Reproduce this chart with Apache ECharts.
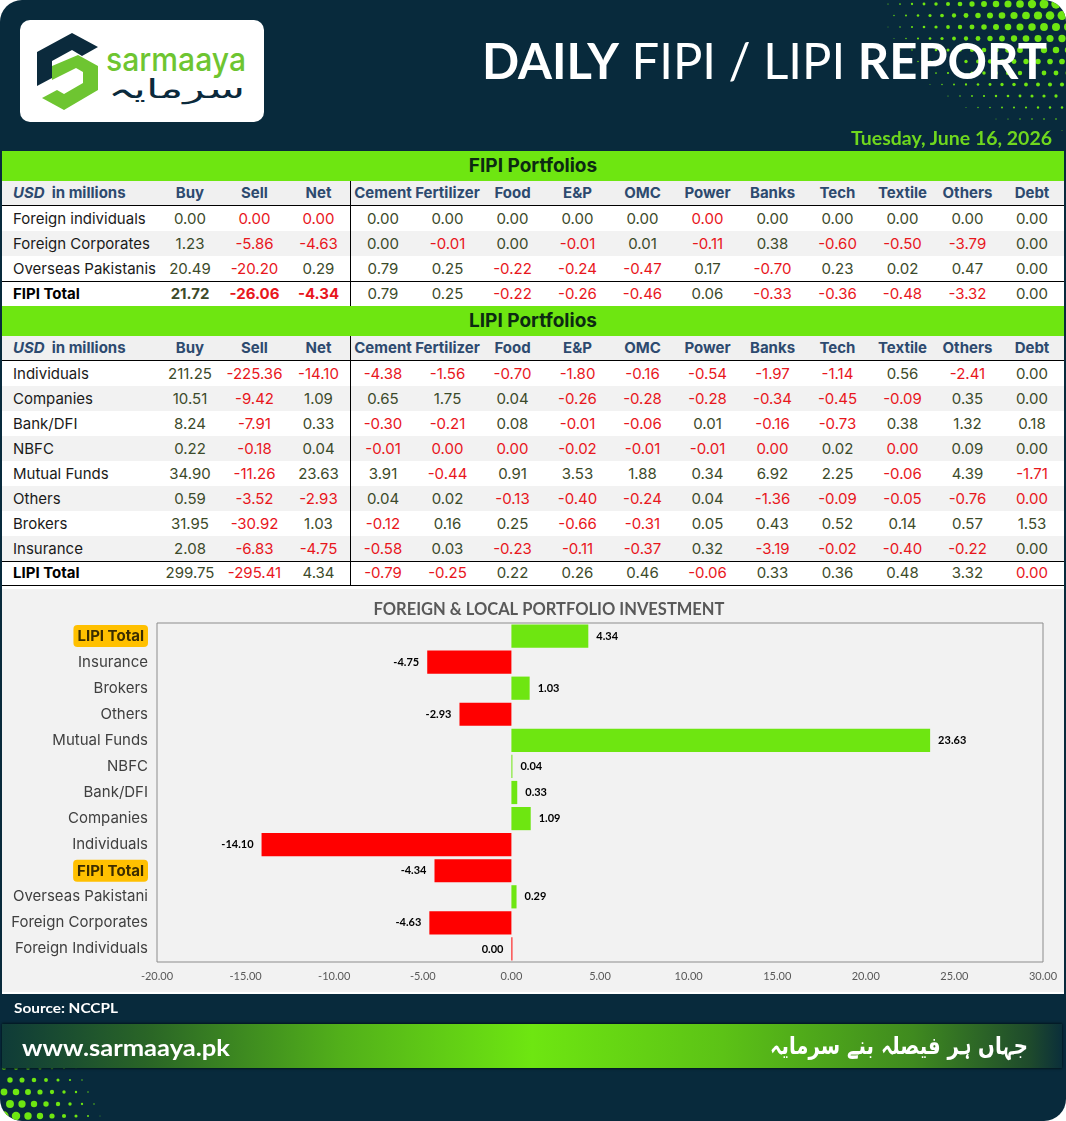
<!DOCTYPE html>
<html><head><meta charset="utf-8">
<script src="https://cdn.jsdelivr.net/npm/echarts@6/dist/echarts.min.js"></script>
<style>
html,body{margin:0;padding:0;background:#fff;}
#root{position:relative;width:1066px;height:1121px;overflow:hidden;background:#082a3c;border-radius:22px;font-family:Inter,'Noto Sans',sans-serif;}
#dots{position:absolute;left:0;top:0;}
.abs{position:absolute;white-space:nowrap;}
#mid{position:absolute;left:2px;top:151px;width:1062px;height:843px;background:#fff;}
.band{height:30px;line-height:30px;background:#6ee611;text-align:center;font-weight:700;font-size:19px;color:#0c2a12;}
.row{display:flex;height:25px;line-height:25px;font-size:15px;box-sizing:border-box;color:#1a1a1a;}
.row>div{flex:none;text-align:center;white-space:nowrap;box-sizing:border-box;}
.row>div.lab{text-align:left;padding-left:11px;}
.row>div.vl{border-left:1px solid #000;}
.hdr{background:#f0f0f0;font-weight:700;color:#2d4a6f;border-bottom:1.5px solid #000;line-height:24px;}
.alt{background:#f2f2f2;}
.tot{border-top:1.5px solid #000;line-height:24px;}
.totb{border-bottom:1.5px solid #000;line-height:22px;}
.pos{color:#3c4a2a;}
.neg{color:#e8161c;}
.b{font-weight:700;}
#chart{position:absolute;left:2px;top:589px;width:1062px;height:403px;}
#logo{position:absolute;left:20px;top:20px;width:244px;height:102px;background:#fff;border-radius:10px;}
#fband{position:absolute;left:2px;top:1024px;width:1060px;height:44px;
 background:linear-gradient(to right,#0f3b38 0%,#2a6626 14%,#52b01a 32%,#6ee611 50%,#5cc216 68%,#3f8a1f 86%,#1e4a2c 97%,#0b2f3a 100%);
 box-shadow:0 1px 2px #031820, 0 -1px 2px #031820;}
</style></head>
<body>
<div id="root">
  <canvas id="dots" width="1066" height="1121"></canvas>
  <div id="logo">
    <svg width="244" height="102" style="position:absolute;left:0;top:0">
      <polygon points="17,32 52,13 78,27 62,36 52,30 32,41 32,58 17,66" fill="#0b2a3c"/>
      <polygon points="32,46 58,35 78,46 78,70 44,90 22,78 37,70 44,74 63,63 63,52 56,48 32,60" fill="#6ec531"/>
    </svg>
    <div class="abs" id="logoTxt" style="left:86px;top:21px;font-family:Inter;font-weight:500;font-size:33px;line-height:36px;color:#6ec531;">sarmaaya</div>
    <div class="abs" id="logoUr" style="left:88px;top:54px;font-family:'DejaVu Sans';font-size:26px;line-height:30px;color:#0b2a3c;">سرمایہ</div>
  </div>
  <div class="abs" id="title" style="left:482px;top:33px;font-family:Lato;font-size:50px;line-height:54px;color:#fff;"><b>DAILY</b> FIPI / LIPI <b>REPORT</b></div>
  <div class="abs" id="date" style="left:851px;top:127px;font-family:Lato;font-weight:700;font-size:18px;line-height:22px;color:#6fd71e;">Tuesday, June 16, 2026</div>
  <div id="mid"><div id="tables"></div></div>
  <div id="chart"></div>
  <div class="abs" id="src" style="left:14px;top:999px;font-family:Lato;font-weight:700;font-size:13px;line-height:18px;color:#fff;">Source: NCCPL</div>
  <div id="fband"></div>
  <div class="abs" id="www" style="left:22px;top:1033px;font-family:Lato;font-weight:700;font-size:23px;line-height:28px;color:#fff;">www.sarmaaya.pk</div>
  <div class="abs" id="urdu" style="left:770px;top:1030px;font-family:'DejaVu Sans';font-weight:700;font-size:24px;line-height:32px;color:#fff;">جہاں ہر فیصلہ بنے سرمایہ</div>
</div>
<script>
// ---------- DATA ----------
const sectors = ['Cement','Fertilizer','Food','E&P','OMC','Power','Banks','Tech','Textile','Others','Debt'];
const fipiRows = ['Foreign individuals','Foreign Corporates','Overseas Pakistanis'];
const fipiBuy  = [0.00, 1.23, 20.49];
const fipiSell = [-0, -5.86, -20.20];
const fipiNet  = [-0, -4.63, 0.29];
const fipiSector = [
  [0.00, 0.00, 0.00, 0.00, 0.00, -0, 0.00, 0.00, 0.00, 0.00, 0.00],
  [0.00, -0.01, 0.00, -0.01, 0.01, -0.11, 0.38, -0.60, -0.50, -3.79, 0.00],
  [0.79, 0.25, -0.22, -0.24, -0.47, 0.17, -0.70, 0.23, 0.02, 0.47, 0.00]
];
const fipiTotalBuy = 21.72, fipiTotalSell = -26.06, fipiTotalNet = -4.34;
const fipiTotalSector = [0.79, 0.25, -0.22, -0.26, -0.46, 0.06, -0.33, -0.36, -0.48, -3.32, 0.00];

const lipiRows = ['Individuals','Companies','Bank/DFI','NBFC','Mutual Funds','Others','Brokers','Insurance'];
const lipiBuy  = [211.25, 10.51, 8.24, 0.22, 34.90, 0.59, 31.95, 2.08];
const lipiSell = [-225.36, -9.42, -7.91, -0.18, -11.26, -3.52, -30.92, -6.83];
const lipiNet  = [-14.10, 1.09, 0.33, 0.04, 23.63, -2.93, 1.03, -4.75];
const lipiSector = [
  [-4.38, -1.56, -0.70, -1.80, -0.16, -0.54, -1.97, -1.14, 0.56, -2.41, 0.00],
  [0.65, 1.75, 0.04, -0.26, -0.28, -0.28, -0.34, -0.45, -0.09, 0.35, 0.00],
  [-0.30, -0.21, 0.08, -0.01, -0.06, 0.01, -0.16, -0.73, 0.38, 1.32, 0.18],
  [-0.01, -0, -0, -0.02, -0.01, -0.01, -0, 0.02, -0, 0.09, 0.00],
  [3.91, -0.44, 0.91, 3.53, 1.88, 0.34, 6.92, 2.25, -0.06, 4.39, -1.71],
  [0.04, 0.02, -0.13, -0.40, -0.24, 0.04, -1.36, -0.09, -0.05, -0.76, -0],
  [-0.12, 0.16, 0.25, -0.66, -0.31, 0.05, 0.43, 0.52, 0.14, 0.57, 1.53],
  [-0.58, 0.03, -0.23, -0.11, -0.37, 0.32, -3.19, -0.02, -0.40, -0.22, 0.00]
];
const lipiTotalBuy = 299.75, lipiTotalSell = -295.41, lipiTotalNet = 4.34;
const lipiTotalSector = [-0.79, -0.25, 0.22, 0.26, 0.46, -0.06, 0.33, 0.36, 0.48, 3.32, -0];

const chartCategories = ['Foreign Individuals','Foreign Corporates','Overseas Pakistani','FIPI Total','Individuals','Companies','Bank/DFI','NBFC','Mutual Funds','Others','Brokers','Insurance','LIPI Total'];
const chartValues = [-0, -4.63, 0.29, -4.34, -14.10, 1.09, 0.33, 0.04, 23.63, -2.93, 1.03, -4.75, 4.34];
const xMin = -20, xMax = 30, xStep = 5;

// ---------- TABLES ----------
const colW = [156, 64, 65, 63, 65, 65, 65, 65, 65, 65, 65, 65, 65, 65, 64];
const isNeg = v => v < 0 || Object.is(v, -0);
function numCell(v, i, bold) {
  return `<div class="${isNeg(v) ? 'neg' : 'pos'}${bold ? ' b' : ''}${i === 4 ? ' vl' : ''}" style="width:${colW[i]}px">${v.toFixed(2)}</div>`;
}
function headerRow() {
  const heads = ['<i>USD</i>&nbsp; in millions', 'Buy', 'Sell', 'Net'].concat(sectors);
  return `<div class="row hdr">` + heads.map((h, i) =>
    `<div class="${i === 0 ? 'lab' : ''}${i === 4 ? ' vl' : ''}" style="width:${colW[i]}px">${h}</div>`).join('') + `</div>`;
}
function dataRow(label, buy, sell, net, sec, cls, boldMain) {
  let h = `<div class="row ${cls}"><div class="lab${boldMain !== undefined ? ' b' : ''}" style="width:${colW[0]}px;color:${boldMain !== undefined ? '#000' : '#1a1a1a'}">${label}</div>`;
  h += numCell(buy, 1, boldMain) + numCell(sell, 2, boldMain) + numCell(net, 3, boldMain);
  sec.forEach((v, k) => { h += numCell(v, 4 + k, false); });
  return h + '</div>';
}
let html = '<div class="band">FIPI Portfolios</div>' + headerRow();
fipiRows.forEach((r, i) => { html += dataRow(r, fipiBuy[i], fipiSell[i], fipiNet[i], fipiSector[i], i % 2 ? 'alt' : ''); });
html += dataRow('FIPI Total', fipiTotalBuy, fipiTotalSell, fipiTotalNet, fipiTotalSector, 'tot', true);
html += '<div class="band">LIPI Portfolios</div>' + headerRow();
lipiRows.forEach((r, i) => { html += dataRow(r, lipiBuy[i], lipiSell[i], lipiNet[i], lipiSector[i], i % 2 ? 'alt' : ''); });
html += dataRow('LIPI Total', lipiTotalBuy, lipiTotalSell, lipiTotalNet, lipiTotalSector, 'tot totb', false);
document.getElementById('tables').innerHTML = html;

// ---------- DECORATIVE DOTS ----------
(function () {
  const c = document.getElementById('dots').getContext('2d');
  c.fillStyle = '#6ee611';
  for (let j = 0; j < 14; j++) for (let i = 0; i < 18; i++) {
    const x = 1068 - i * 12 - (j % 2) * 6, y = 4 + j * 11.5;
    const d = Math.hypot((1066 - x) * 0.75, y * 1.05);
    const r = 5 - d / 30;
    if (r > 0.4) { c.beginPath(); c.arc(x, y, r, 0, 6.283); c.fill(); }
  }
  for (let j = 0; j < 12; j++) for (let i = 0; i < 12; i++) {
    const x = 4 + i * 12 + (j % 2) * 6, y = 1116 - j * 12;
    const d = Math.hypot(x, (1121 - y) * 1.2);
    const r = 5 - d / 22;
    if (r > 0.4) { c.beginPath(); c.arc(x, y, r, 0, 6.283); c.fill(); }
  }
})();

// ---------- TEXT FITTING ----------
function fit(id, left, targetW) {
  const el = document.getElementById(id);
  el.style.left = left + 'px';
  el.style.transformOrigin = 'left center';
  const w = el.getBoundingClientRect().width;
  el.style.transform = 'scaleX(' + (targetW / w) + ')';
}
fit('title', 482, 565);
fit('date', 851, 201);
fit('www', 22, 208);
fit('urdu', 770, 258);
fit('logoTxt', 86, 140);
fit('logoUr', 88, 137);
fit('src', 14, 104);

// ---------- CHART ----------
const chart = echarts.init(document.getElementById('chart'));
chart.setOption({
  backgroundColor: '#f2f2f2',
  animation: false,
  title: {
    text: 'FOREIGN & LOCAL PORTFOLIO INVESTMENT', left: 542, top: 7, textAlign: 'center',
    textStyle: { fontFamily: 'Lato', fontWeight: 'bold', fontSize: 16.5, color: '#595959' }
  },
  grid: { left: 155, right: 21, top: 34, bottom: 30, show: true, borderColor: '#8c8c8c', borderWidth: 1, backgroundColor: 'transparent', containLabel: false },
  xAxis: {
    type: 'value', min: xMin, max: xMax, interval: xStep,
    axisLine: { show: false }, axisTick: { show: false }, splitLine: { show: false },
    axisLabel: { formatter: v => v.toFixed(2), color: '#595959', fontSize: 11, fontFamily: 'Lato', margin: 9 }
  },
  yAxis: {
    type: 'category', data: chartCategories,
    axisLine: { show: false }, axisTick: { show: false }, splitLine: { show: false },
    axisLabel: {
      margin: 9, color: '#404040', fontSize: 15, fontFamily: 'Inter',
      formatter: v => v.endsWith('Total') ? '{t|' + v + '}' : v,
      rich: { t: { backgroundColor: '#ffc000', borderRadius: 4, padding: [4, 4, 3, 4], fontWeight: 'bold', color: '#3b2c00', fontSize: 15, fontFamily: 'Inter' } }
    }
  },
  series: [{
    type: 'bar', barCategoryGap: '11%', barMinHeight: 1,
    data: chartValues.map(v => ({
      value: v,
      itemStyle: { color: isNeg(v) ? '#ff0000' : '#6ee611' },
      label: { position: isNeg(v) ? 'left' : 'right' }
    })),
    label: {
      show: true, distance: 8, color: '#000', fontFamily: 'Lato', fontWeight: 'bold', fontSize: 11,
      formatter: p => Number(p.value).toFixed(2)
    }
  }]
});
</script>
</body></html>
